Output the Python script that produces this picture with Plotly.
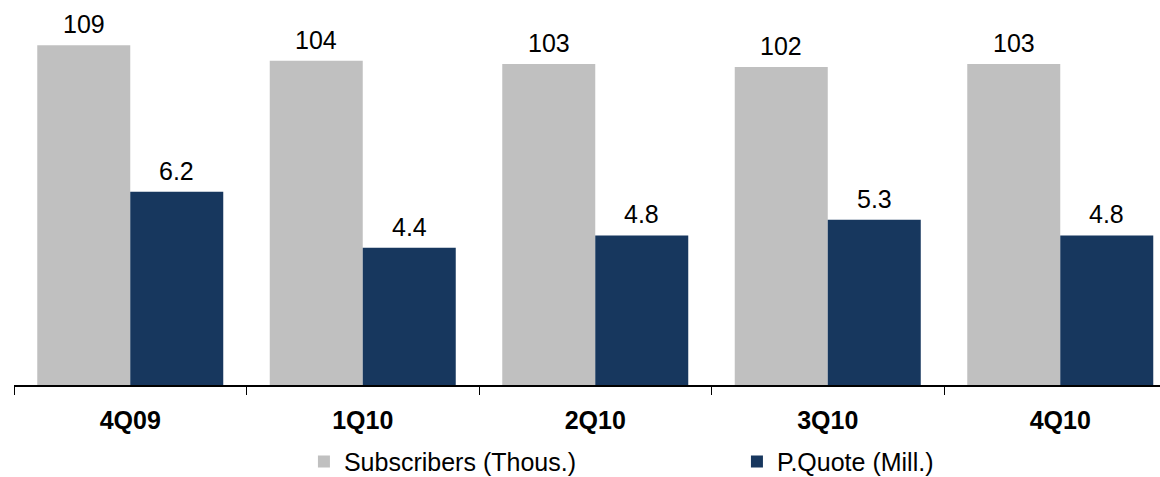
import plotly.graph_objects as go

quarters = ["4Q09", "1Q10", "2Q10", "3Q10", "4Q10"]
subscribers = [109, 104, 103, 102, 103]
pquote = [6.2, 4.4, 4.8, 5.3, 4.8]

GREY = "#C0C0C0"
NAVY = "#17375E"
FONT = "Liberation Sans, Arial, sans-serif"

fig = go.Figure()
fig.add_trace(go.Bar(
    x=quarters, y=subscribers, name="Subscribers (Thous.)",
    marker=dict(color=GREY, line=dict(width=0)),
    offsetgroup="a", yaxis="y",
))
fig.add_trace(go.Bar(
    x=quarters, y=pquote, name="P.Quote (Mill.)",
    marker=dict(color=NAVY, line=dict(width=0)),
    offsetgroup="b", yaxis="y2",
))

# value labels above each bar; the two bars sit at -0.2 / +0.2 of each category slot
annotations = []
for i, (s, p) in enumerate(zip(subscribers, pquote)):
    annotations.append(dict(x=i - 0.2, y=s, xref="x", yref="y", text=str(s),
                            showarrow=False, yanchor="bottom", yshift=5))
    annotations.append(dict(x=i + 0.2, y=p, xref="x", yref="y2", text=f"{p:.1f}",
                            showarrow=False, yanchor="bottom", yshift=5))

fig.update_layout(
    width=1160, height=477,
    margin=dict(l=14, r=0, t=11, b=92, autoexpand=False),
    paper_bgcolor="white", plot_bgcolor="white",
    barmode="group", bargap=0.2, bargroupgap=0,
    font=dict(family=FONT, size=25, color="#000000"),
    annotations=annotations,
    xaxis=dict(
        type="category", range=[-0.5, 4.429],
        showline=True, linecolor="#000000", linewidth=2,
        ticks="outside", tickson="boundaries", ticklen=8, tickwidth=1,
        tickcolor="#000000", ticklabelstandoff=12,
        tickfont=dict(size=25, family=FONT, weight="bold"),
        showgrid=False, zeroline=False,
    ),
    yaxis=dict(range=[0, 120], visible=False, showgrid=False),
    yaxis2=dict(range=[0, 12], visible=False, showgrid=False,
                overlaying="y", side="right"),
    showlegend=True,
    legend=dict(
        orientation="h", x=0.253, xanchor="left", y=-0.205, yanchor="middle",
        font=dict(size=25, family=FONT), entrywidth=388,
        itemwidth=30, bgcolor="rgba(0,0,0,0)",
    ),
)

fig.write_html("out.html")
